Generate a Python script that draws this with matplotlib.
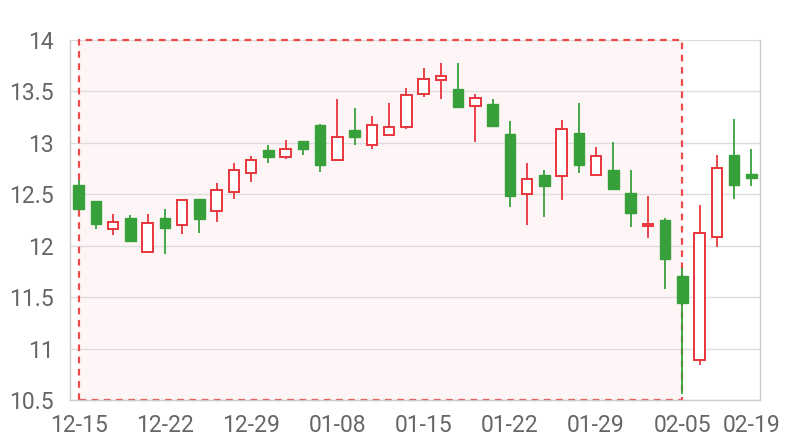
import matplotlib
matplotlib.use("Agg")
import matplotlib.pyplot as plt
import numpy as np

dates = ['12-15', '12-16', '12-17', '12-18', '12-19',
         '12-22', '12-23', '12-24', '12-25', '12-26',
         '12-29', '12-30', '12-31', '01-06', '01-07',
         '01-08', '01-09', '01-12', '01-13', '01-14',
         '01-15', '01-16', '01-19', '01-20', '01-21',
         '01-22', '01-23', '01-26', '01-27', '01-28',
         '01-29', '01-30', '02-02', '02-03', '02-04',
         '02-05', '02-06', '02-13', '02-16', '02-19']

opens = [12.59, 12.435, 12.158, 12.265, 11.939, 12.274, 12.197, 12.455, 12.335, 12.526,
         12.703, 12.933, 12.866, 13.022, 13.172, 12.831, 13.121, 12.978, 13.076, 13.15,
         13.471, 13.615, 13.526, 13.355, 13.374, 13.087, 12.5, 12.687, 12.677, 13.094,
         12.691, 12.739, 12.511, 12.19, 12.251, 11.709, 10.889, 12.083, 12.883, 12.7]
closes = [12.361, 12.213, 12.235, 12.045, 12.216, 12.174, 12.445, 12.261, 12.539, 12.739,
          12.835, 12.866, 12.936, 12.943, 12.787, 13.06, 13.057, 13.169, 13.159, 13.462,
          13.618, 13.646, 13.348, 13.435, 13.165, 12.484, 12.652, 12.584, 13.132, 12.788,
          12.87, 12.554, 12.316, 12.215, 11.87, 11.446, 12.122, 12.756, 12.587, 12.66]
highs = [12.635, 12.435, 12.306, 12.297, 12.306, 12.355, 12.458, 12.455, 12.613, 12.806,
         12.868, 12.984, 13.032, 13.022, 13.182, 13.43, 13.341, 13.261, 13.389, 13.535,
         13.723, 13.774, 13.777, 13.474, 13.426, 13.213, 12.8, 12.739, 13.226, 13.384,
         12.961, 13.013, 12.733, 12.479, 12.27, 11.78, 12.398, 12.886, 13.228, 12.945]
lows = [12.36, 12.161, 12.103, 12.032, 11.926, 11.916, 12.113, 12.123, 12.235, 12.452,
        12.619, 12.809, 12.841, 12.879, 12.713, 12.825, 12.978, 12.94, 13.064, 13.137,
        13.449, 13.43, 13.348, 13.01, 13.165, 12.374, 12.203, 12.284, 12.445, 12.707,
        12.691, 12.544, 12.186, 12.072, 11.58, 10.561, 10.844, 11.985, 12.454, 12.577]

area_start = '12-15'
area_end = '02-05'
label_idx = [0, 5, 10, 15, 20, 25, 30, 35, 39]

red = '#e8363c'
green = '#37a03b'
gray_txt = '#666666'

plt.rcParams['font.family'] = ['Roboto', 'DejaVu Sans']

fig = plt.figure(figsize=(8, 4.4), dpi=100)
ax = fig.add_axes([0.0875, 0.0909, 0.8625, 0.8182])

x = np.arange(len(dates))
o = np.array(opens)
c = np.array(closes)
up = c >= o

# mark area
xa = dates.index(area_start)
xb = dates.index(area_end)
ax.fill_between([xa, xb], 10.5, 14, color='#fef6f6', zorder=0, lw=0)
ax.plot([xa, xa, xb, xb, xa], [10.5, 14, 14, 10.5, 10.5], color='#ee4a4a',
        lw=1.6, ls=(0, (3, 2.5)), zorder=1, clip_on=False)

# wicks
ax.vlines(x[up], np.array(lows)[up], np.array(highs)[up], color=red, lw=1.3, zorder=2)
ax.vlines(x[~up], np.array(lows)[~up], np.array(highs)[~up], color=green, lw=1.3, zorder=2)

# bodies
w = 0.62
ax.bar(x[up], (c - o)[up], bottom=o[up], width=w, facecolor='white',
       edgecolor=red, linewidth=1.4, zorder=3)
ax.bar(x[~up], (o - c)[~up], bottom=c[~up], width=w, facecolor=green,
       edgecolor=green, linewidth=1.0, zorder=3)

ax.set_xlim(-0.5, len(dates) - 0.5)
ax.set_ylim(10.5, 14)
ax.set_yticks(np.arange(10.5, 14.01, 0.5))
ax.set_yticklabels(['10.5', '11', '11.5', '12', '12.5', '13', '13.5', '14'])
ax.set_xticks(label_idx)
ax.set_xticklabels([dates[i] for i in label_idx])
ax.grid(axis='y', color='#dddddd', lw=1, zorder=0)
ax.set_axisbelow(True)

for s in ['left', 'bottom', 'right']:
    ax.spines[s].set_color('#cccccc')
    ax.spines[s].set_linewidth(1)
ax.spines['top'].set_visible(False)
ax.tick_params(length=0, labelsize=16.5, colors=gray_txt)
ax.tick_params(axis='y', pad=12)
ax.tick_params(axis='x', pad=10)

fig.savefig('out.png', dpi=100)
